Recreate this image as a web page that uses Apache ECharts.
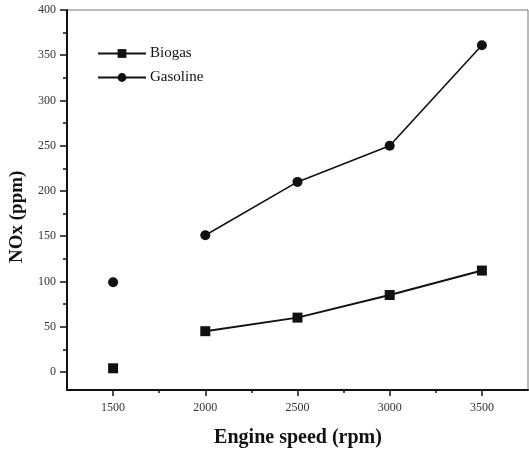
<!DOCTYPE html>
<html>
<head>
<meta charset="utf-8">
<script src="https://cdn.jsdelivr.net/npm/echarts@6/dist/echarts.min.js"></script>
<style>html,body{margin:0;padding:0;background:#fff;}#c{width:529px;height:455px;}</style>
</head>
<body>
<div id="c"></div>
<script>
var speeds = [1500, 2000, 2500, 3000, 3500];
var biogas = [4, 45, 60, 85, 112];
var gasoline = [99, 151, 210, 250, 361];
var xMajor = [1500, 2000, 2500, 3000, 3500];
var xMinor = [1750, 2250, 2750, 3250];
var yMajor = [0, 50, 100, 150, 200, 250, 300, 350, 400];
var yMinor = [25, 75, 125, 175, 225, 275, 325, 375];
var gapSpeed = 1750;

function buildData(vals) {
  var d = [[speeds[0], vals[0]], [gapSpeed, '-']];
  for (var i = 1; i < speeds.length; i++) d.push([speeds[i], vals[i]]);
  return d;
}

var serif = 'Liberation Serif';
var chart = echarts.init(document.getElementById('c'), null, {renderer: 'canvas'});
var plain = function (v) { return String(v); };
var option = {
  animation: false,
  backgroundColor: '#fff',
  grid: {left: 67, right: 1, top: 10, bottom: 65, show: true, borderColor: '#777', borderWidth: 1, containLabel: false},
  legend: {
    left: 92, top: 41, orient: 'vertical', itemGap: 9,
    itemWidth: 48, itemHeight: 11,
    textStyle: {fontFamily: serif, fontSize: 15, color: '#111', padding: [0, 0, 0, -1]},
    data: ['Biogas', 'Gasoline']
  },
  xAxis: [{
    type: 'value', min: 1250, max: 3750,
    axisLine: {show: true, onZero: false, lineStyle: {color: '#111', width: 2}},
    axisTick: {show: true, length: 6, inside: false, lineStyle: {color: '#111', width: 1.5}, customValues: xMajor},
    axisLabel: {fontFamily: serif, fontSize: 12, color: '#333', margin: 12, formatter: plain, customValues: xMajor},
    splitLine: {show: false}
  }, {
    type: 'value', min: 1250, max: 3750, position: 'bottom',
    axisLine: {show: false, onZero: false},
    axisTick: {show: true, length: 3, lineStyle: {color: '#111', width: 1.5}, customValues: xMinor},
    axisLabel: {show: false, customValues: xMinor},
    splitLine: {show: false}
  }],
  yAxis: [{
    type: 'value', min: -20, max: 400,
    axisLine: {show: true, onZero: false, lineStyle: {color: '#111', width: 2}},
    axisTick: {show: true, length: 7, lineStyle: {color: '#111', width: 1.5}, customValues: yMajor},
    axisLabel: {fontFamily: serif, fontSize: 12, color: '#333', margin: 11, formatter: plain, customValues: yMajor},
    splitLine: {show: false}
  }, {
    type: 'value', min: -20, max: 400, position: 'left',
    axisLine: {show: false, onZero: false},
    axisTick: {show: true, length: 4, lineStyle: {color: '#111', width: 1.5}, customValues: yMinor},
    axisLabel: {show: false, customValues: yMinor},
    splitLine: {show: false}
  }],
  series: [{
    name: 'Biogas', type: 'line', xAxisIndex: 0, yAxisIndex: 0,
    data: buildData(biogas),
    symbol: 'rect', symbolSize: 10, showSymbol: true,
    connectNulls: false,
    lineStyle: {color: '#111', width: 2},
    itemStyle: {color: '#111'}
  }, {
    name: 'Gasoline', type: 'line', xAxisIndex: 0, yAxisIndex: 0,
    data: buildData(gasoline),
    symbol: 'circle', symbolSize: 10, showSymbol: true,
    connectNulls: false,
    lineStyle: {color: '#111', width: 1.6},
    itemStyle: {color: '#111'}
  }],
  graphic: [{
    type: 'text', x: 298, y: 428,
    style: {text: 'Engine speed (rpm)', font: 'bold 20px "Liberation Serif"', fill: '#111', textAlign: 'center'}
  }, {
    type: 'text', x: 8, y: 263, rotation: Math.PI / 2,
    style: {text: 'NOx (ppm)', font: 'bold 19px "Liberation Serif"', fill: '#111'}
  }]
};
chart.setOption(option);
</script>
</body>
</html>
